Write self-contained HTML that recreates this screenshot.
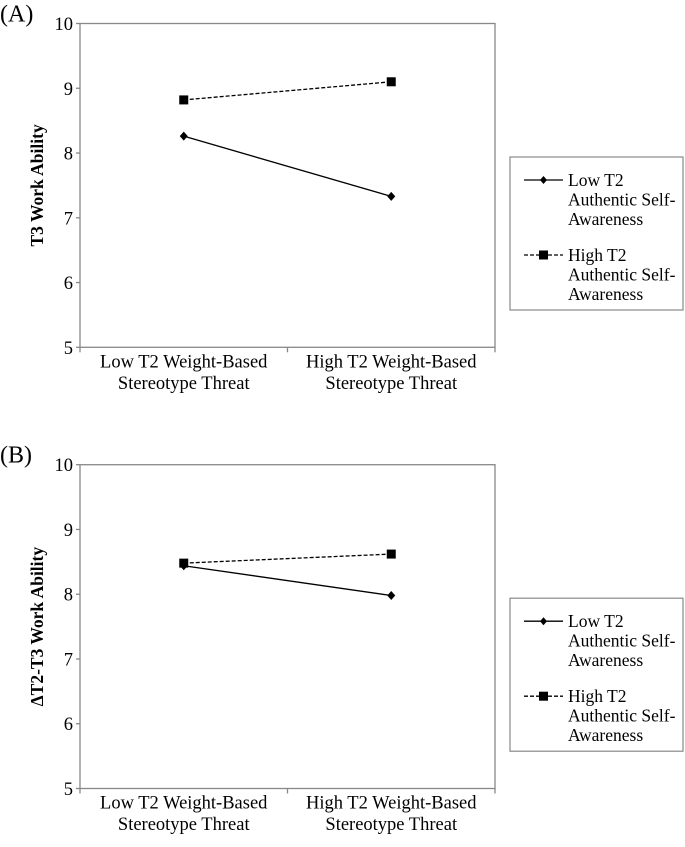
<!DOCTYPE html>
<html><head><meta charset="utf-8"><style>
html,body{margin:0;padding:0;background:#fff;}
svg, svg text, svg tspan{font-family:"Liberation Serif","Times New Roman",serif;}
</style></head><body>
<svg id="chart" width="685" height="842" viewBox="0 0 685 842" xmlns="http://www.w3.org/2000/svg" font-family="Liberation Serif, serif"></svg>
<script>
const categories = ["Low T2 Weight-Based|Stereotype Threat", "High T2 Weight-Based|Stereotype Threat"];
const yTicks = [5, 6, 7, 8, 9, 10];
const panelLabels = ["(A)", "(B)"];
const yTitles = ["T3 Work Ability", "\u0394T2-T3 Work Ability"];
const seriesNames = ["Low T2|Authentic Self-|Awareness", "High T2|Authentic Self-|Awareness"];
const lowA = [8.26, 7.33];
const highA = [8.82, 9.10];
const lowB = [8.44, 7.98];
const highB = [8.48, 8.62];

const svg = document.getElementById('chart');
const NS = 'http://www.w3.org/2000/svg';
const FF = '"Liberation Serif", serif';
function mk(tag, attrs, parent) {
  const e = document.createElementNS(NS, tag);
  for (const k in attrs) e.setAttribute(k, attrs[k]);
  if (tag === 'text') e.style.fontFamily = FF;
  (parent || svg).appendChild(e);
  return e;
}
const L = 80, R = 495, W = R - L;
function xPos(i) { return L + W * (i + 0.5) / categories.length; }

function panel(idx, top, low, high) {
  const bottom = top + 323.8;
  const g = mk('g', {});
  
  
  const y = v => bottom - (v - 5) / 5 * (bottom - top);
  const pl = mk('text', {x: 0, y: top - 2, 'font-size': 24}, g);
  pl.textContent = panelLabels[idx];
  
  
  const box = mk('rect', {x: L, y: top, width: W, height: bottom - top, fill: 'none', stroke: '#888', 'stroke-width': 1.3}, g);
  
  
  yTicks.forEach(t => {
    mk('line', {x1: L - 4, x2: L, y1: y(t), y2: y(t), stroke: '#888', 'stroke-width': 1.3}, g);
    const tx = mk('text', {x: L - 7, y: y(t) + 6.5, 'font-size': 18.5, 'text-anchor': 'end'}, g);
    tx.textContent = t;
    
    
  });
  [0, 1, 2].forEach(i => mk('line', {x1: L + W * i / 2, x2: L + W * i / 2, y1: bottom, y2: bottom + 5, stroke: '#888', 'stroke-width': 1.3}, g));
  categories.forEach((c, i) => {
    const t = mk('text', {x: xPos(i), y: bottom + 20, 'font-size': 18.5, 'text-anchor': 'middle'}, g);
    
    
    c.split('|').forEach((ln, j) => { const s = mk('tspan', {x: xPos(i), dy: j ? 21.5 : 0}, t); s.textContent = ln; });
  });
  const yt = mk('text', {x: 0, y: 0, 'font-size': 17.5, 'font-weight': 'bold', 'text-anchor': 'middle', transform: `translate(43,${(top + bottom) / 2}) rotate(-90)`}, g);
  yt.textContent = yTitles[idx];
  
  
  const hl = mk('polyline', {points: high.map((v, i) => xPos(i) + ',' + y(v)).join(' '), fill: 'none', stroke: '#000', 'stroke-width': 1.3, 'stroke-dasharray': '4,2'}, g);
  
  
  const ll = mk('polyline', {points: low.map((v, i) => xPos(i) + ',' + y(v)).join(' '), fill: 'none', stroke: '#000', 'stroke-width': 1.3}, g);
  
  
  high.forEach((v, i) => {
    const m = mk('rect', {x: xPos(i) - 4.5, y: y(v) - 4.5, width: 9, height: 9, fill: '#000'}, g);
    
    
  });
  low.forEach((v, i) => {
    const cx = xPos(i), cy = y(v);
    const m = mk('polygon', {points: `${cx},${cy - 4.5} ${cx + 4},${cy} ${cx},${cy + 4.5} ${cx - 4},${cy}`, fill: '#000'}, g);
    
    
  });
  const lt = top + 133.5;
  const lg = mk('g', {}, g);
  
  
  mk('rect', {x: 510, y: lt, width: 173, height: 153, fill: 'none', stroke: '#888', 'stroke-width': 1.2}, lg);
  seriesNames.forEach((n, k) => {
    const base = lt + 23 + k * 75;
    const e = mk('g', {}, lg);
    
    
    mk('line', {x1: 524, x2: 563, y1: base, y2: base, stroke: '#000', 'stroke-width': 1.3, 'stroke-dasharray': k ? '4,2' : 'none'}, e);
    if (k) mk('rect', {x: 539, y: base - 4.5, width: 9, height: 9, fill: '#000'}, e);
    else mk('polygon', {points: `543.5,${base - 4} 547,${base} 543.5,${base + 4} 540,${base}`, fill: '#000'}, e);
    const t = mk('text', {x: 568, y: base + 6, 'font-size': 17.5}, e);
    n.split('|').forEach((ln, j) => { const s = mk('tspan', {x: 568, dy: j ? 19.5 : 0}, t); s.textContent = ln; });
  });
}
panel(0, 23.5, lowA, highA);
panel(1, 464.7, lowB, highB);
</script>
</body></html>
